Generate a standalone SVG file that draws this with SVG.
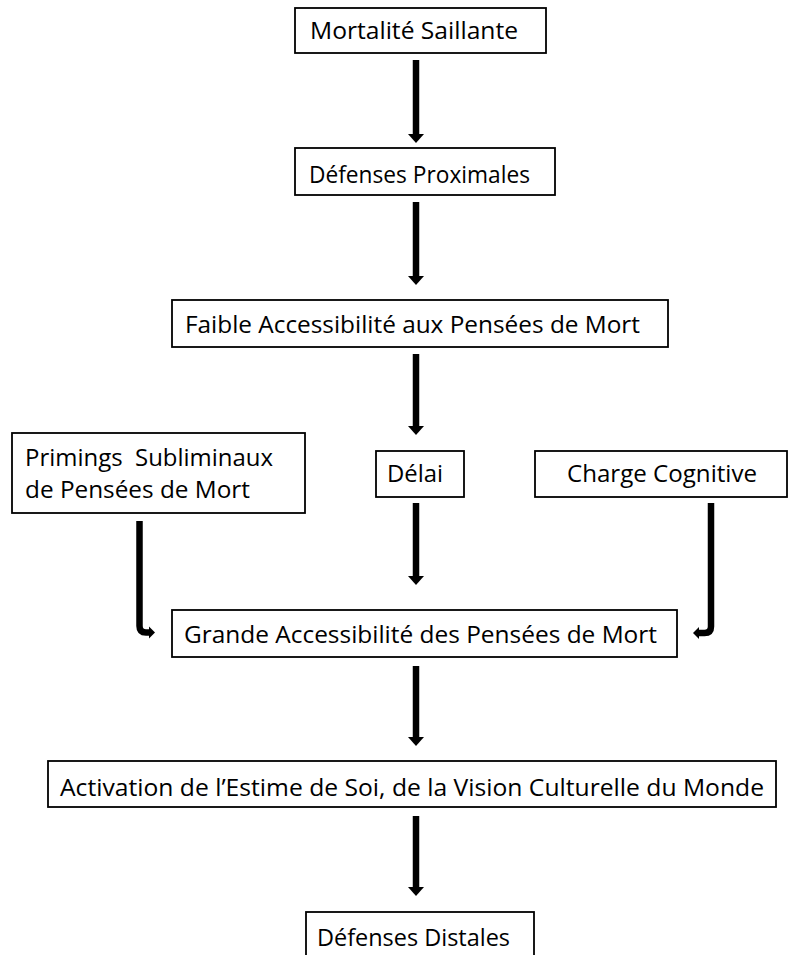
<svg xmlns="http://www.w3.org/2000/svg" width="795" height="955" viewBox="0 0 795 955">
<style>
.box{fill:#fff;stroke:#000;stroke-width:1.8}
.t{font-family:"Open Sans","Liberation Sans",sans-serif;font-size:23px;fill:#000}
.shaft{stroke:#000;stroke-width:6.5;fill:none}
.head{fill:#000}
</style>
<rect width="795" height="955" fill="#fff"/>
<g id="connectors">
<path class="shaft" d="M416,60 V134"/><polygon class="head" points="408,134 424,134 416,143"/>
<path class="shaft" d="M416,202 V276"/><polygon class="head" points="408,276 424,276 416,285"/>
<path class="shaft" d="M416,354 V426"/><polygon class="head" points="408,426 424,426 416,435"/>
<path class="shaft" d="M416,503 V576"/><polygon class="head" points="408,576 424,576 416,585"/>
<path class="shaft" d="M416,666 V737"/><polygon class="head" points="408,737 424,737 416,746"/>
<path class="shaft" d="M416,816 V887"/><polygon class="head" points="408,887 424,887 416,896"/>
<path class="shaft" d="M139.5,521 V626 Q139.5,632.5 146,632.5 H150"/><polygon class="head" points="149,626.5 155,632.5 149,638.5"/>
<path class="shaft" d="M711,503 V626.5 Q711,633 704.5,633 H698"/><polygon class="head" points="699,627 693,633 699,639"/>
</g>
<g id="n1"><rect class="box" x="295" y="8" width="251" height="45"/><text class="t" x="310" y="38.5" textLength="208" lengthAdjust="spacingAndGlyphs">Mortalité Saillante</text></g>
<g id="n2"><rect class="box" x="295" y="148" width="260" height="47"/><text class="t" x="309" y="183" textLength="221" lengthAdjust="spacingAndGlyphs">Défenses Proximales</text></g>
<g id="n3"><rect class="box" x="172" y="300" width="496" height="47"/><text class="t" x="185" y="333" textLength="455" lengthAdjust="spacingAndGlyphs">Faible Accessibilité aux Pensées de Mort</text></g>
<g id="n4"><rect class="box" x="12" y="433" width="293" height="80"/><text class="t" x="25" y="466" textLength="248" lengthAdjust="spacingAndGlyphs" xml:space="preserve">Primings  Subliminaux</text><text class="t" x="25" y="498" textLength="225" lengthAdjust="spacingAndGlyphs">de Pensées de Mort</text></g>
<g id="n5"><rect class="box" x="376" y="451" width="88" height="46"/><text class="t" x="387" y="482" textLength="56" lengthAdjust="spacingAndGlyphs">Délai</text></g>
<g id="n6"><rect class="box" x="535" y="451" width="252" height="46"/><text class="t" x="567" y="482" textLength="190" lengthAdjust="spacingAndGlyphs">Charge Cognitive</text></g>
<g id="n7"><rect class="box" x="172" y="610" width="505" height="47"/><text class="t" x="184" y="643" textLength="473" lengthAdjust="spacingAndGlyphs">Grande Accessibilité des Pensées de Mort</text></g>
<g id="n8"><rect class="box" x="48" y="761" width="728" height="46"/><text class="t" x="60" y="796" textLength="704" lengthAdjust="spacingAndGlyphs">Activation de l’Estime de Soi, de la Vision Culturelle du Monde</text></g>
<g id="n9"><rect class="box" x="306" y="912" width="228" height="60"/><text class="t" x="317" y="946" textLength="193" lengthAdjust="spacingAndGlyphs">Défenses Distales</text></g>
</svg>
